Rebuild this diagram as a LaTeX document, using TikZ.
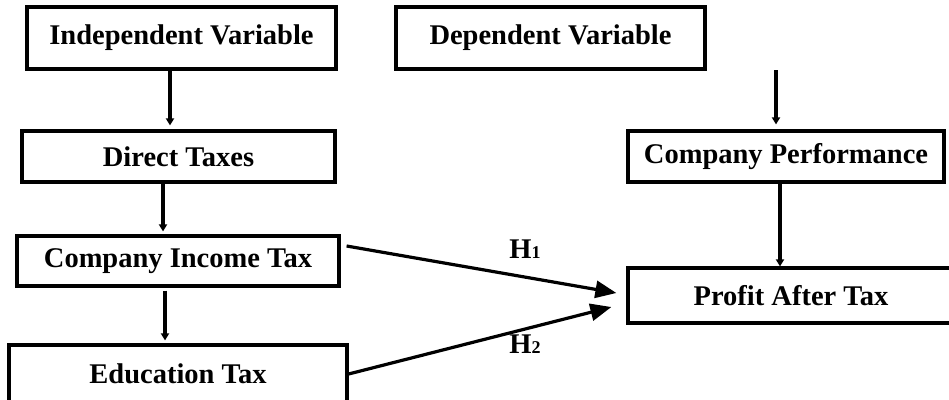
\documentclass[tikz,border=0pt]{standalone}
\usepackage{fontspec}
\setmainfont{Liberation Serif}
\usetikzlibrary{arrows.meta,calc}
\begin{document}
\begin{tikzpicture}[x=1pt,y=-1pt,
  box/.style={draw, line width=3.2pt, inner sep=0pt, font=\fontsize{28.5}{31}\selectfont\bfseries},
  vline/.style={line width=3.2pt, -{Triangle[length=7pt,width=8pt]}},
  hline/.style={line width=3.2pt, -{Triangle[length=21pt,width=17pt]}},
  lbl/.style={font=\fontsize{28.5}{31}\selectfont\bfseries, inner sep=0pt, anchor=base}]
\useasboundingbox (0,0) rectangle (949,399);
\fill[white] (0,0) rectangle (949,399);
% boxes
\node[box, minimum width=309pt, minimum height=62pt] (ind) at (181.5,38) {Independent Variable};
\node[box, minimum width=309pt, minimum height=62pt] (dep) at (550.5,38) {Dependent Variable};
\node[box, minimum width=313pt, minimum height=51pt] (dt) at (178.5,156.5) {Direct Taxes};
\node[box, minimum width=316pt, minimum height=51pt] (cp) at (786,156.5) {Company Performance};
\node[box, minimum width=322pt, minimum height=50pt] (cit) at (178,261) {Company Income Tax};
\node[box, minimum width=326pt, minimum height=55pt] (pat) at (791,295.5) {Profit After Tax};
\node[box, minimum width=338pt, minimum height=58pt] (et) at (178,374) {Education Tax};
% vertical connectors
\coordinate (c1) at (170,0);
\coordinate (c2) at (163,0);
\coordinate (c3) at (165,0);
\coordinate (c4) at (780,0);
\coordinate (depa) at (776,70);
\draw[vline, shorten >=4pt] (ind.south -| c1) -- (dt.north -| c1);
\draw[vline, shorten >=3pt] (dt.south -| c2) -- (cit.north -| c2);
\draw[vline, shorten <=3pt, shorten >=3pt] (cit.south -| c3) -- (et.north -| c3);
\draw[vline, shorten >=5pt] (depa) -- (cp.north -| depa);
\draw[vline] (cp.south -| c4) -- (pat.north -| c4);
% hypotheses
\coordinate (h1s) at ($(cit.east)+(6,-15)$);
\coordinate (h1e) at ($(pat.west)+(-10,-2.5)$);
\coordinate (h2s) at ($(et.east)+(0,0)$);
\coordinate (h2e) at ($(pat.west)+(-15,11.5)$);
\draw[hline] (h1s) -- (h1e);
\draw[hline] (h2s) -- (h2e);
\node[lbl] (l1) at (525,258) {H{\fontsize{18}{18}\selectfont 1}};
\node[lbl] (l2) at (525,353) {H{\fontsize{18}{18}\selectfont 2}};
\end{tikzpicture}
\end{document}
